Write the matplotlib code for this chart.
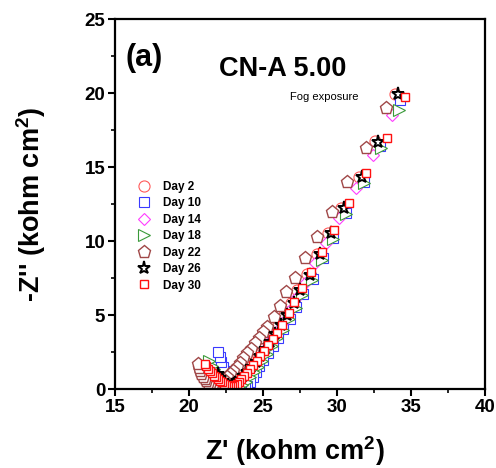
import matplotlib
matplotlib.use("Agg")
import matplotlib.pyplot as plt
from matplotlib.ticker import MultipleLocator

plt.rcParams['font.family'] = ['Liberation Sans', 'DejaVu Sans']
plt.rcParams['font.weight'] = 'bold'
plt.rcParams['mathtext.fontset'] = 'custom'
plt.rcParams['mathtext.rm'] = 'Liberation Sans:bold'
plt.rcParams['mathtext.default'] = 'rm'

# Nyquist data, Z' and -Z'' in kohm cm2
day2_x = [33.90, 32.55, 31.48, 30.25, 29.38, 28.66, 27.98, 27.32, 26.86, 26.42, 26.00, 25.62, 25.26, 24.93,
          24.62, 24.32, 24.03, 23.74, 23.46, 23.20, 22.95, 22.72, 22.50, 22.30, 22.12, 21.96, 21.82, 21.70]
day2_y = [19.95, 16.75, 14.35, 12.25, 10.55, 9.15, 7.74, 6.72, 5.82, 5.03, 4.35, 3.75, 3.20, 2.72,
          2.27, 1.87, 1.50, 1.16, 0.86, 0.60, 0.40, 0.28, 0.28, 0.40, 0.58, 0.80, 1.04, 1.30]

day10_x = [34.25, 32.90, 31.85, 30.62, 29.76, 29.04, 28.36, 27.70, 27.24, 26.80, 26.38, 26.00, 25.65, 25.32,
           25.02, 24.76, 24.52, 24.30, 24.12, 23.95, 23.75, 23.52, 23.30, 23.08, 22.86, 22.66, 22.48, 22.32,
           22.18, 22.06, 21.97]
day10_y = [19.55, 16.40, 14.00, 11.92, 10.22, 8.82, 7.42, 6.40, 5.52, 4.74, 4.06, 3.46, 2.92, 2.42,
           1.96, 1.56, 1.18, 0.82, 0.48, 0.18, 0.08, 0.12, 0.26, 0.44, 0.66, 0.92, 1.20, 1.50, 1.82, 2.16, 2.50]

day14_x = [33.73, 32.40, 31.30, 30.12, 29.25, 28.52, 27.84, 27.20, 26.74, 26.32, 25.90, 25.52, 25.17, 24.84,
           24.53, 24.24, 23.96, 23.70, 23.45, 23.22, 23.00, 22.80, 22.60, 22.40, 22.20, 22.00, 21.80, 21.60, 21.42]
day14_y = [18.50, 15.80, 13.55, 11.55, 9.88, 8.50, 7.15, 6.15, 5.28, 4.52, 3.86, 3.28, 2.76, 2.28,
           1.84, 1.44, 1.08, 0.76, 0.48, 0.28, 0.18, 0.20, 0.30, 0.44, 0.60, 0.80, 1.02, 1.26, 1.52]

day18_x = [34.18, 32.94, 31.82, 30.62, 29.74, 29.00, 28.32, 27.66, 27.20, 26.77, 26.34, 25.96, 25.60, 25.27,
           24.96, 24.66, 24.38, 24.10, 23.84, 23.60, 23.38, 23.18, 22.98, 22.78, 22.56, 22.34, 22.12, 21.90,
           21.70, 21.52, 21.35]
day18_y = [18.85, 16.26, 13.90, 11.85, 10.15, 8.75, 7.38, 6.35, 5.47, 4.70, 4.02, 3.42, 2.88, 2.38,
           1.92, 1.50, 1.12, 0.78, 0.48, 0.25, 0.12, 0.10, 0.18, 0.32, 0.48, 0.66, 0.86, 1.08, 1.32, 1.58, 1.90]

day22_x = [33.28, 31.93, 30.69, 29.67, 28.66, 27.86, 27.14, 26.58, 26.12, 25.72, 25.27, 24.98, 24.70, 24.43,
           24.17, 23.92, 23.68, 23.44, 23.21, 22.99, 22.77, 22.56, 22.35, 22.15, 21.96, 21.78, 21.60, 21.44,
           21.30, 21.17, 21.05, 20.94, 20.84, 20.75, 20.67, 20.60]
day22_y = [18.99, 16.26, 14.01, 11.98, 10.29, 8.83, 7.48, 6.57, 5.61, 4.89, 4.21, 3.82, 3.45, 3.08,
           2.73, 2.40, 2.08, 1.78, 1.50, 1.24, 1.00, 0.80, 0.62, 0.48, 0.38, 0.32, 0.31, 0.35,
           0.43, 0.54, 0.68, 0.84, 1.02, 1.22, 1.44, 1.68]

day26_x = [34.11, 32.76, 31.70, 30.46, 29.60, 28.88, 28.20, 27.53, 27.07, 26.63, 26.20, 25.82, 25.46, 25.13,
           24.82, 24.52, 24.22, 23.93, 23.65, 23.38, 23.12, 22.88, 22.65, 22.45, 22.28, 22.12, 21.98]
day26_y = [19.93, 16.71, 14.30, 12.21, 10.52, 9.12, 7.70, 6.69, 5.79, 5.00, 4.32, 3.72, 3.18, 2.70,
           2.25, 1.85, 1.48, 1.15, 0.86, 0.62, 0.42, 0.30, 0.28, 0.38, 0.55, 0.75, 0.98]

day30_x = [34.57, 33.40, 31.93, 30.80, 29.83, 28.99, 28.25, 27.64, 27.07, 26.73, 26.29, 25.95, 25.65, 25.36,
           25.08, 24.82, 24.57, 24.34, 24.12, 23.91, 23.72, 23.54, 23.37, 23.21, 23.06, 22.92, 22.78, 22.64,
           22.50, 22.36, 22.22, 22.08, 21.94, 21.80, 21.66, 21.53, 21.40, 21.28, 21.17, 21.07]
day30_y = [19.75, 16.94, 14.59, 12.55, 10.74, 9.28, 7.93, 6.80, 5.90, 5.11, 4.32, 3.80, 3.35, 2.95,
           2.57, 2.22, 1.90, 1.60, 1.33, 1.08, 0.86, 0.66, 0.49, 0.35, 0.25, 0.19, 0.18, 0.22,
           0.28, 0.36, 0.45, 0.55, 0.66, 0.78, 0.91, 1.05, 1.20, 1.36, 1.53, 1.70]

labels = ["Day 2", "Day 10", "Day 14", "Day 18", "Day 22", "Day 26", "Day 30"]
xs = [day2_x, day10_x, day14_x, day18_x, day22_x, day26_x, day30_x]
ys = [day2_y, day10_y, day14_y, day18_y, day22_y, day26_y, day30_y]
markers = ["o", "s", "D", ">", "p", "*", "s"]
colors = ["#ff5a5a", "#3a3aff", "#ff3cff", "#3a9a3a", "#a04848", "#000000", "#ff1010"]
sizes = [8, 7.5, 6, 8, 9.5, 9.5, 6]
edge_w = [0.8, 0.8, 0.8, 0.8, 1.0, 1.4, 1.0]

fig = plt.figure(figsize=(4.96, 4.68), dpi=100)
ax = fig.add_axes([0.2319, 0.1688, 0.7459, 0.7906])

for x, y, lab, m, c, s, w in zip(xs, ys, labels, markers, colors, sizes, edge_w):
    ax.plot(x, y, linestyle="none", marker=m, markersize=s, markerfacecolor="white",
            markeredgecolor=c, markeredgewidth=w, label=lab)

ax.set_xlim(15, 40)
ax.set_ylim(0, 25)
ax.xaxis.set_major_locator(MultipleLocator(5))
ax.xaxis.set_minor_locator(MultipleLocator(2.5))
ax.yaxis.set_major_locator(MultipleLocator(5))
ax.yaxis.set_minor_locator(MultipleLocator(2.5))
ax.tick_params(which="major", direction="out", length=5, width=1.5, labelsize=13.5, pad=2)
ax.tick_params(which="minor", direction="out", length=3, width=1.2)
ax.tick_params(top=False, right=False)
for lbl in ax.get_xticklabels() + ax.get_yticklabels():
    lbl.set_fontweight("bold")
for sp in ax.spines.values():
    sp.set_linewidth(1.6)

ax.set_xlabel("Z' (kohm cm$^{2}$)", fontsize=19.5, fontweight="bold", labelpad=13)
ax.xaxis.label.set_x(0.485)
ax.set_ylabel("-Z'' (kohm cm$^{2}$)", fontsize=19.5, fontweight="bold", labelpad=26)

ax.text(0.027, 0.895, "(a)", transform=ax.transAxes, fontsize=22, fontweight="bold", va="center", ha="left")
ax.text(0.454, 0.865, "CN-A 5.00", transform=ax.transAxes, fontsize=19.5, fontweight="bold", va="center", ha="center")
ax.text(0.473, 0.789, "Fog exposure", transform=ax.transAxes, fontsize=8, fontweight="normal", va="center", ha="left")

ax.legend(loc="upper left", bbox_to_anchor=(0.062, 0.563), frameon=False, borderpad=0, borderaxespad=0,
          handlelength=1.0, handletextpad=1.15, labelspacing=0.38, prop={"size": 8.5, "weight": "bold"})

fig.savefig("out.png", dpi=100)
